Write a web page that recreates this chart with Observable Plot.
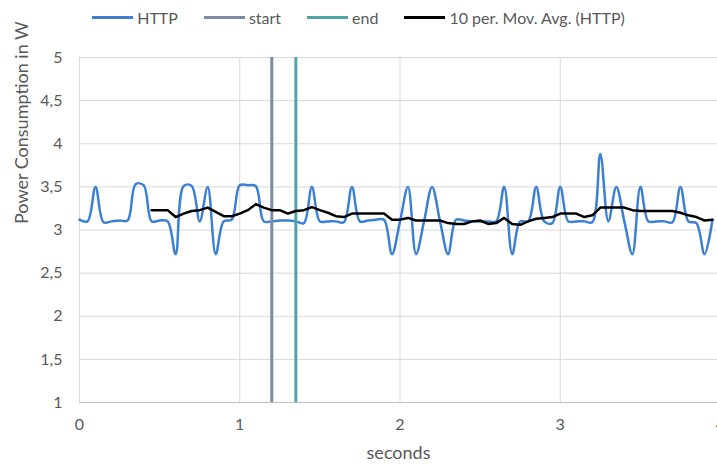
<!DOCTYPE html>
<html>
<head>
<meta charset="utf-8">
<script src="https://cdn.jsdelivr.net/npm/d3@7"></script>
<script src="https://cdn.jsdelivr.net/npm/@observablehq/plot@0.6"></script>
<style>
  html, body { margin: 0; padding: 0; background: #fff; width: 717px; height: 468px; overflow: hidden; }
  body { font-family: Lato, "Open Sans", sans-serif; }
  #legend { height: 34px; display: flex; justify-content: center; align-items: center; font-size: 16px; color: #595959; padding-left: 0px; }
  .item { display: flex; align-items: center; margin: 0 13px; }
  .swatch { width: 41px; height: 3px; margin-right: 4px; }
  #chart svg { display: block; max-width: none; }
</style>
</head>
<body>
<div id="legend"></div>
<div id="chart"></div>
<script>
// ---- data ----
const sampleInterval = 0.05; // seconds between samples
const httpValues = [
  3.12, 3.10, 3.50, 3.09, 3.10, 3.11, 3.11, 3.53, 3.52, 3.10,
  3.11, 3.10, 2.72, 3.51, 3.51, 3.10, 3.50, 2.72, 3.10, 3.12,
  3.52, 3.52, 3.51, 3.10, 3.10, 3.11, 3.11, 3.10, 3.08, 3.50,
  3.10, 3.10, 3.10, 3.09, 3.50, 3.10, 3.11, 3.12, 3.12, 2.72,
  3.10, 3.50, 2.72, 3.10, 3.50, 3.10, 2.72, 3.12, 3.11, 3.10,
  3.10, 3.10, 3.10, 3.50, 2.72, 3.10, 3.10, 3.50, 3.10, 3.08,
  3.50, 3.10, 3.10, 3.10, 3.09, 3.88, 3.10, 3.50, 3.10, 2.72,
  3.50, 3.10, 3.10, 3.10, 3.09, 3.50, 3.10, 3.08, 2.72, 3.12
];
const movAvgStartIndex = 9;
const movAvgValues = [
  3.23, 3.23, 3.23, 3.15, 3.19, 3.22, 3.23, 3.26, 3.21, 3.16,
  3.16, 3.19, 3.23, 3.30, 3.26, 3.23, 3.23, 3.19, 3.22, 3.23,
  3.265, 3.23, 3.20, 3.16, 3.15, 3.19, 3.19, 3.19, 3.19, 3.19,
  3.12, 3.12, 3.14, 3.11, 3.11, 3.11, 3.11, 3.08, 3.07, 3.07,
  3.10, 3.11, 3.07, 3.08, 3.14, 3.07, 3.06, 3.10, 3.13, 3.14,
  3.15, 3.19, 3.19, 3.19, 3.15, 3.17, 3.26, 3.26, 3.26, 3.26,
  3.23, 3.22, 3.22, 3.22, 3.22, 3.22, 3.20, 3.17, 3.15, 3.11,
  3.12
];
const startTime = [1.2];
const endTime = [1.35];
const xTicks = [0, 1, 2, 3, 4];
const yTicks = [1, 1.5, 2, 2.5, 3, 3.5, 4, 4.5, 5];
const seriesNames = ["HTTP", "start", "end", "10 per. Mov. Avg. (HTTP)"];
const seriesColors = ["#3b80d4", "#7d8ba8", "#4fa3aa", "#000000"];
const xLabel = "seconds";
const yLabel = "Power Consumption in W";

// ---- build tables ----
const http = httpValues.map((v, i) => ({t: i * sampleInterval, v}));
const movAvg = movAvgValues.map((v, i) => ({t: (i + movAvgStartIndex) * sampleInterval, v}));

// ---- legend ----
const legend = document.getElementById("legend");
seriesNames.forEach((name, i) => {
  const item = document.createElement("div");
  item.className = "item";
  const sw = document.createElement("span");
  sw.className = "swatch";
  sw.style.background = seriesColors[i];
  const tx = document.createElement("span");
  tx.textContent = name;
  item.appendChild(sw);
  item.appendChild(tx);
  legend.appendChild(item);
});

const comma = d => String(d).replace(".", ",");
const textColor = "#595959";

const chart = Plot.plot({
  width: 717,
  height: 434,
  marginTop: 23,
  marginLeft: 79,
  marginRight: 0,
  marginBottom: 66,
  style: {fontFamily: "Lato, 'Open Sans', sans-serif", background: "#fff", overflow: "visible"},
  x: {domain: [0, 4], range: [79, 720]},
  y: {domain: [1, 5]},
  marks: [
    Plot.gridY(yTicks, {stroke: "#d9d9d9", strokeOpacity: 1, strokeWidth: 1}),
    Plot.gridX(xTicks, {stroke: "#d9d9d9", strokeOpacity: 1, strokeWidth: 1}),
    Plot.ruleY([1], {stroke: "#bfbfbf", strokeWidth: 1}),
    Plot.line(http, {x: "t", y: "v", stroke: seriesColors[0], strokeWidth: 2.5, curve: "catmull-rom"}),
    Plot.ruleX(startTime, {y1: 1, y2: 5, stroke: seriesColors[1], strokeWidth: 3}),
    Plot.ruleX(endTime, {y1: 1, y2: 5, stroke: seriesColors[2], strokeWidth: 3}),
    Plot.line(movAvg, {x: "t", y: "v", stroke: seriesColors[3], strokeWidth: 2.5}),
    Plot.axisX(xTicks, {tickSize: 0, tickPadding: 16, fontSize: 16, fill: textColor, tickFormat: comma, label: null}),
    Plot.axisY(yTicks, {tickSize: 0, tickPadding: 17, fontSize: 16, fill: textColor, tickFormat: comma, label: null}),
    Plot.text([xLabel], {frameAnchor: "bottom", dy: 56, fontSize: 18, fill: textColor}),
    Plot.text([yLabel], {frameAnchor: "left", dx: -57, dy: -6, rotate: -90, fontSize: 18, fill: textColor})
  ]
});
document.getElementById("chart").appendChild(chart);
</script>
</body>
</html>
